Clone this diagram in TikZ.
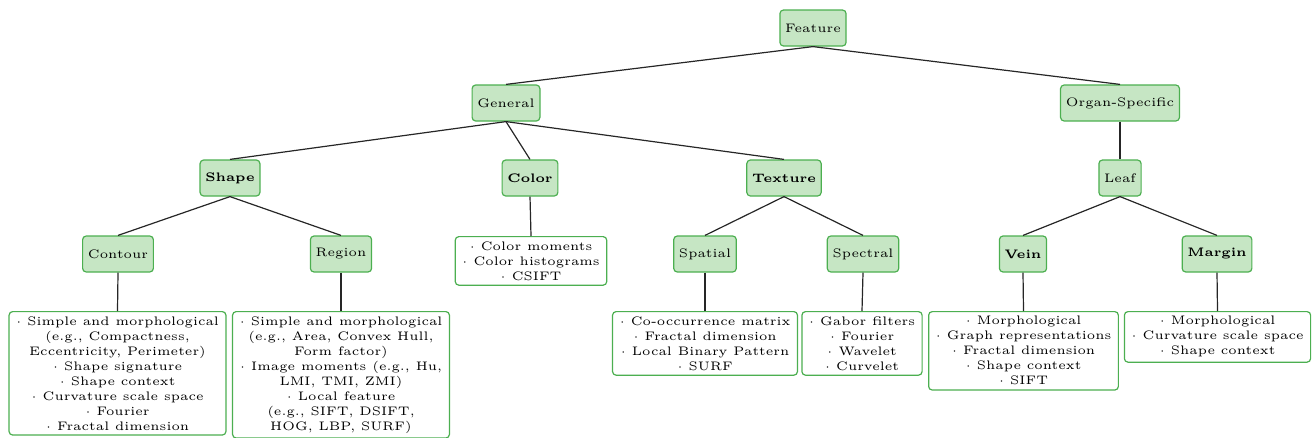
\documentclass[tikz,border=0pt]{standalone}
\definecolor{nodefill}{RGB}{198,230,196}
\definecolor{nodeborder}{RGB}{76,175,80}
\begin{document}
\begin{tikzpicture}[x=0.41667pt,y=-0.41667pt,
  lbl/.style={draw=nodeborder, fill=nodefill, rounded corners=1.5pt, line width=0.5pt,
    minimum height=15pt, inner xsep=2.2pt, inner ysep=0pt, font=\fontsize{5.15}{6.25}\selectfont},
  lst/.style={draw=nodeborder, fill=white, rounded corners=1.5pt, line width=0.5pt,
    align=center, inner xsep=2.9pt, inner ysep=2pt, anchor=north, font=\fontsize{5.15}{6.25}\selectfont},
  conn/.style={line width=0.5pt, draw=black!85}]
\useasboundingbox (0,0) rectangle (1312,438);
% level 0
\node[lbl] (feature) at (813,28) {Feature};
% level 1
\node[lbl] (general) at (506,103) {General};
\node[lbl] (organ) at (1120,103) {Organ-Specific};
% level 2
\node[lbl] (shape) at (230,178) {\bfseries Shape};
\node[lbl] (color) at (530,178) {\bfseries Color};
\node[lbl] (texture) at (784,178) {\bfseries Texture};
\node[lbl] (leaf) at (1120,178) {Leaf};
% level 3
\node[lbl] (contour) at (118,254) {Contour};
\node[lbl] (region) at (341,254) {Region};
\node[lbl] (spatial) at (705,254) {Spatial};
\node[lbl] (spectral) at (863,254) {Spectral};
\node[lbl] (vein) at (1023,254) {\bfseries Vein};
\node[lbl] (margin) at (1217,254) {\bfseries Margin};
% lists
\node[lst] (colorlist) at (531,236) {$\cdot$ Color moments\\$\cdot$ Color histograms\\$\cdot$ CSIFT};
\node[lst] (contourlist) at (117.5,311) {$\cdot$ Simple and morphological\\(e.g., Compactness,\\Eccentricity, Perimeter)\\$\cdot$ Shape signature\\$\cdot$ Shape context\\$\cdot$ Curvature scale space\\$\cdot$ Fourier\\$\cdot$ Fractal dimension};
\node[lst] (regionlist) at (341,311) {$\cdot$ Simple and morphological\\(e.g., Area, Convex Hull,\\Form factor)\\$\cdot$ Image moments (e.g., Hu,\\LMI, TMI, ZMI)\\$\cdot$ Local feature\\(e.g., SIFT, DSIFT,\\HOG, LBP, SURF)};
\node[lst] (spatiallist) at (705,311) {$\cdot$ Co-occurrence matrix\\$\cdot$ Fractal dimension\\$\cdot$ Local Binary Pattern\\$\cdot$ SURF};
\node[lst] (spectrallist) at (862,311) {$\cdot$ Gabor filters\\$\cdot$ Fourier\\$\cdot$ Wavelet\\$\cdot$ Curvelet};
\node[lst] (veinlist) at (1023.5,311) {$\cdot$ Morphological\\$\cdot$ Graph representations\\$\cdot$ Fractal dimension\\$\cdot$ Shape context\\$\cdot$ SIFT};
\node[lst] (marginlist) at (1217.5,311) {$\cdot$ Morphological\\$\cdot$ Curvature scale space\\$\cdot$ Shape context};
% connectors
\draw[conn] (feature.south) -- (general.north);
\draw[conn] (feature.south) -- (organ.north);
\draw[conn] (general.south) -- (shape.north);
\draw[conn] (general.south) -- (color.north);
\draw[conn] (general.south) -- (texture.north);
\draw[conn] (organ.south) -- (leaf.north);
\draw[conn] (shape.south) -- (contour.north);
\draw[conn] (shape.south) -- (region.north);
\draw[conn] (texture.south) -- (spatial.north);
\draw[conn] (texture.south) -- (spectral.north);
\draw[conn] (leaf.south) -- (vein.north);
\draw[conn] (leaf.south) -- (margin.north);
\draw[conn] (color.south) -- (colorlist.north);
\draw[conn] (contour.south) -- (contourlist.north);
\draw[conn] (region.south) -- (regionlist.north);
\draw[conn] (spatial.south) -- (spatiallist.north);
\draw[conn] (spectral.south) -- (spectrallist.north);
\draw[conn] (vein.south) -- (veinlist.north);
\draw[conn] (margin.south) -- (marginlist.north);
\end{tikzpicture}
\end{document}
